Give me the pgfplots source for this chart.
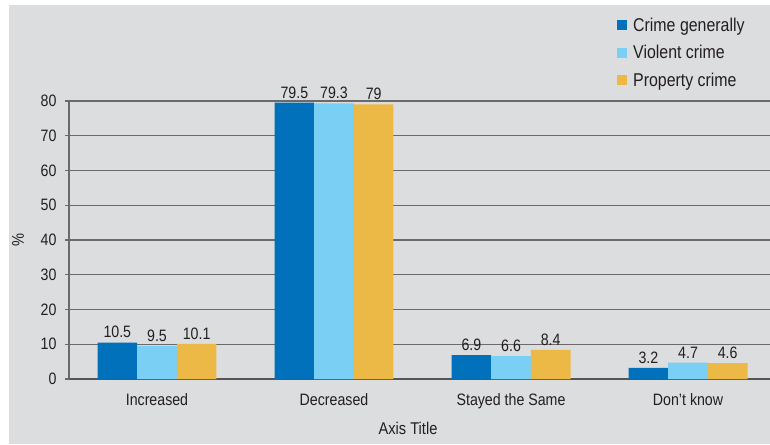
\documentclass[border=0pt]{standalone}
\usepackage{fontspec}
\setmainfont{Liberation Sans}[FakeStretch=0.86]
\usepackage{pgfplots}
\pgfplotsset{compat=1.18}
\definecolor{bgc}{HTML}{DCDDDF}
\definecolor{cgen}{HTML}{0071BA}
\definecolor{cvio}{HTML}{79CFF4}
\definecolor{cpro}{HTML}{EDB946}
\definecolor{gridc}{HTML}{6A6A6A}
\definecolor{txtc}{HTML}{231F20}
\begin{document}
\begin{tikzpicture}
\path[use as bounding box] (0,0) rectangle (770pt,-444pt);
\fill[bgc] (9pt,-5pt) rectangle (770pt,-444pt);
\begin{axis}[
  at={(69pt,-379pt)}, anchor=south west,
  scale only axis, width=701pt, height=278pt,
  xmin=-0.497, xmax=3.463, ymin=0, ymax=80,
  ybar=0pt, bar width=0.224,
  clip=false,
  axis x line*=bottom, axis y line*=left,
  x axis line style={draw=gridc!80!black, line width=2pt},
  y axis line style={draw=gridc, line width=1.6pt},
  xtick={0,1,2,3},
  xticklabels={Increased,Decreased,Stayed the Same,Don’t know},
  x tick style={draw=none},
  xticklabel style={yshift=-7pt},
  ytick={0,10,...,80},
  y tick style={draw=gridc, line width=1.3pt},
  tick align=outside, major tick length=4pt,
  yticklabel style={xshift=-5pt},
  ymajorgrids,
  grid style={draw=gridc, line width=1.3pt},
  /pgf/number format/assume math mode=true,
  tick label style={font=\fontsize{16.5}{19}\selectfont, text=txtc},
  xlabel={Axis Title},
  xlabel style={at={(axis description cs:0.4836,-0.176)}, anchor=center, font=\fontsize{17}{20}\selectfont, text=txtc},
  ylabel={\%},
  ylabel style={at={(axis description cs:-0.0728,0.5)}, anchor=center, font=\fontsize{17}{20}\selectfont, text=txtc},
  nodes near coords,
  every node near coord/.append style={font=\fontsize{16.5}{19}\selectfont, text=txtc, yshift=1pt},
  legend style={at={(0.7817,1.307)}, anchor=north west, draw=none, fill=none,
    font=\fontsize{18.5}{21}\selectfont, text=txtc, row sep=8.5pt, inner sep=0pt},
  legend cell align=left,
  legend image code/.code={\fill[#1] (0pt,-5pt) rectangle (10pt,5pt); \path (14pt,0pt);},
]
\addplot[fill=cgen, draw=none] coordinates {(0,10.5) (1,79.5) (2,6.9) (3,3.2)};
\addplot[fill=cvio, draw=none] coordinates {(0,9.5) (1,79.3) (2,6.6) (3,4.7)};
\addplot[fill=cpro, draw=none] coordinates {(0,10.1) (1,79) (2,8.4) (3,4.6)};
\legend{Crime generally, Violent crime, Property crime}
\end{axis}
\end{tikzpicture}
\end{document}
